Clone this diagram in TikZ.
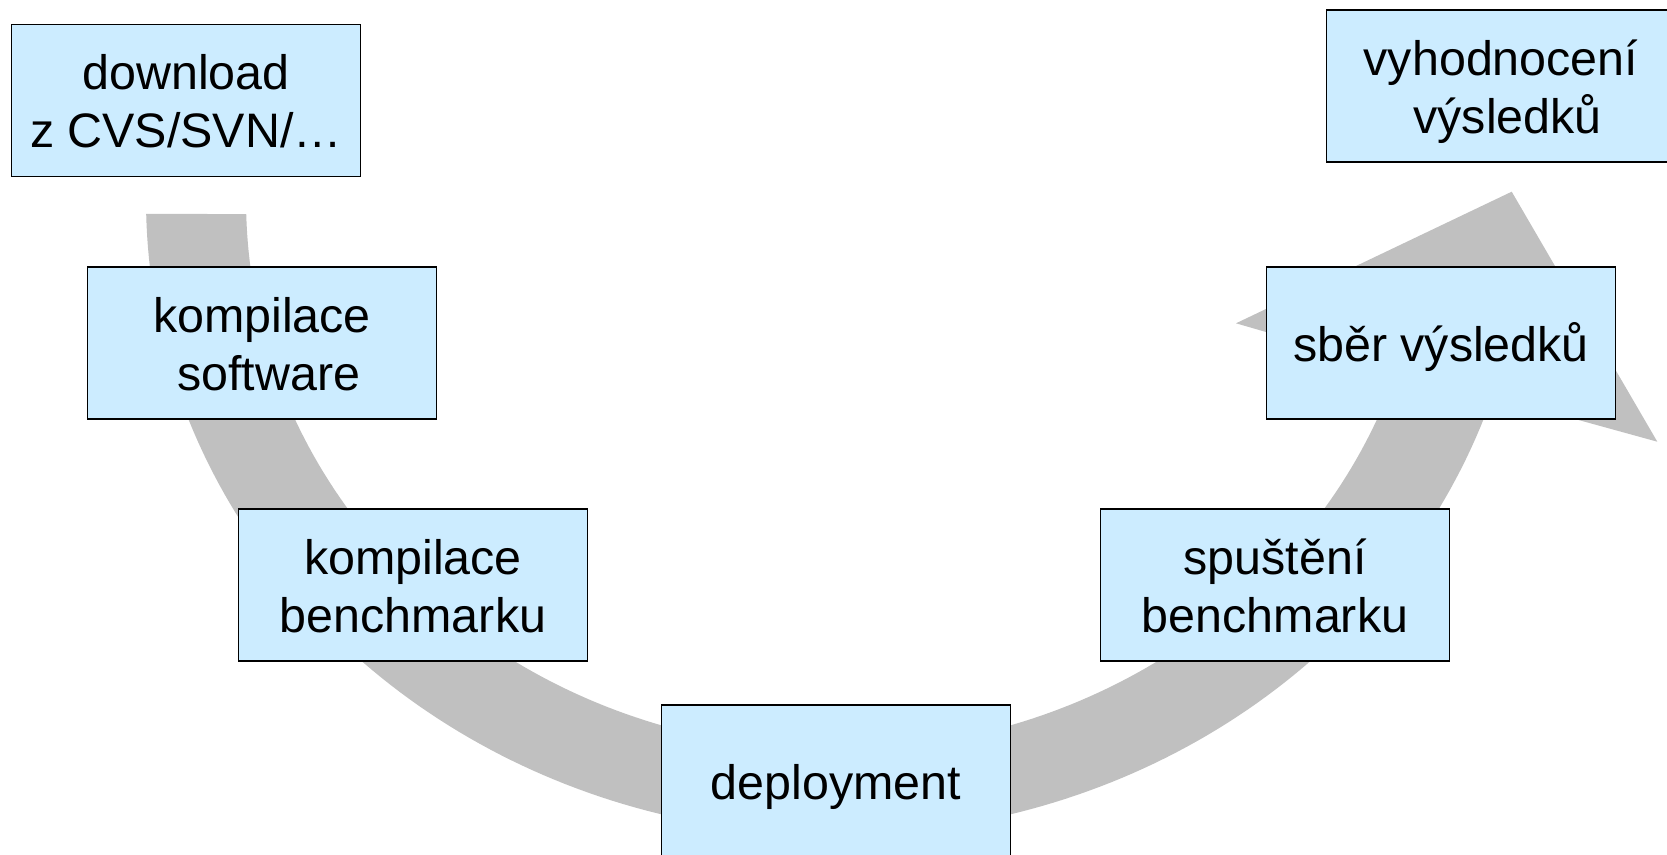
\documentclass[tikz,border=0pt]{standalone}
\usepackage{fontspec}
\setmainfont{Liberation Sans}
\definecolor{boxblue}{HTML}{CCECFF}
\definecolor{arrowgray}{HTML}{C0C0C0}
\newcommand\sst{\rule[-11pt]{0pt}{58pt}}
\newcommand\boxfont{\fontsize{48.4pt}{58pt}\selectfont}
\begin{document}
\begin{tikzpicture}[x=1pt,y=-1pt,
  stepbox/.style={draw=black, line width=1.6pt, fill=boxblue,
    minimum width=349pt, minimum height=152pt, inner sep=0pt,
    align=center, font=\boxfont}]
\clip (0,0) rectangle (1667,854);
\fill[white] (0,0) rectangle (1667,854);
% big curved arrow
\fill[arrowgray]
  plot[domain=18:178.74, samples=160] ({836+690*cos(196.74-\x)},{200+635*sin(196.74-\x)})
  -- (1657.3,441.7) -- (1511.7,191.7) -- (1236,323.3)
  -- plot[domain=18:178.54, samples=160] ({836+590*cos(\x)},{200+550*sin(\x)})
  -- cycle;
% boxes
\node[stepbox] (dl)  at (186,100.5) {\sst download\\\sst z CVS/SVN/…};
\node[stepbox] (ks)  at (262,343)   {\sst kompilace\\\sst\ software};
\node[stepbox] (kb)  at (413,585)   {\sst kompilace\\\sst benchmarku};
\node[stepbox] (dep) at (836,781)   {\sst deployment};
\node[stepbox] (sp)  at (1275,585)  {\sst spuštění\\\sst benchmarku};
\node[stepbox] (sb)  at (1441,343)  {\sst sběr výsledků};
\node[stepbox] (vy)  at (1501,86)   {\sst vyhodnocení\\\sst\ výsledků};
\end{tikzpicture}
\end{document}
